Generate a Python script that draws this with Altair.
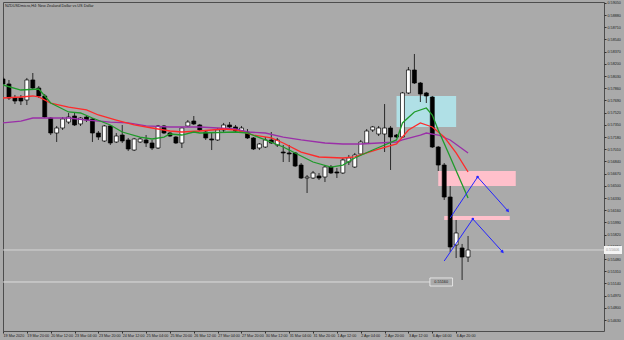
import altair as alt
import pandas as pd

title_text = "NZDUSDmicro,H4: New Zealand Dollar vs US Dollar"

# ---- candles (H4 bars, index 0 = 19 Mar 2020) ----
bar_index = list(range(79))
open_ = [0.57989,0.57919,0.57724,0.57724,0.57696,0.57975,0.57863,0.57752,0.57445,0.57236,
         0.57306,0.57389,0.57473,0.57362,0.57459,0.57431,0.57236,0.57125,0.57334,0.57111,
         0.57208,0.57139,0.56999,0.57111,0.57139,0.57097,0.57027,0.57334,0.57236,0.57180,
         0.57097,0.57334,0.57403,0.57348,0.57250,0.57153,0.57139,0.57278,0.57348,0.57320,
         0.57264,0.57250,0.57167,0.57027,0.57041,0.57139,0.57069,0.56971,0.56958,0.56958,
         0.56790,0.56609,0.56609,0.56637,0.56623,0.56762,0.56693,0.56679,0.56832,0.56762,
         0.56944,0.57097,0.57278,0.57222,0.57222,0.57306,0.57208,0.57180,0.57794,0.58114,
         0.57933,0.57794,0.57738,0.57041,0.56790,0.56344,0.55676,0.55634,0.55508]
high = [0.58017,0.57975,0.57766,0.57766,0.58003,0.58072,0.57891,0.57780,0.57459,0.57334,
        0.57459,0.57515,0.57515,0.57459,0.57487,0.57445,0.57264,0.57348,0.57348,0.57236,
        0.57348,0.57167,0.57167,0.57180,0.57208,0.57139,0.57348,0.57348,0.57250,0.57194,
        0.57320,0.57417,0.57473,0.57362,0.57278,0.57236,0.57306,0.57376,0.57389,0.57348,
        0.57334,0.57292,0.57180,0.57097,0.57180,0.57250,0.57167,0.57069,0.57069,0.56971,
        0.56818,0.56651,0.56707,0.56679,0.56790,0.56790,0.56749,0.56888,0.56930,0.56958,
        0.57139,0.57292,0.57334,0.57334,0.57640,0.57334,0.57222,0.57808,0.58156,0.58337,
        0.57947,0.57808,0.57752,0.57055,0.56818,0.56498,0.56024,0.55690,0.55801]
low = [0.57891,0.57696,0.57640,0.57626,0.57626,0.57835,0.57724,0.57445,0.57208,0.57111,
       0.57278,0.57362,0.57334,0.57334,0.57389,0.57111,0.57139,0.57111,0.57069,0.57097,
       0.57097,0.56985,0.56985,0.57097,0.57041,0.56999,0.57013,0.57222,0.57180,0.57083,
       0.57027,0.57320,0.57348,0.57264,0.57139,0.56999,0.57125,0.57250,0.57278,0.57236,
       0.57236,0.57153,0.56999,0.56999,0.57027,0.57083,0.57041,0.56832,0.56832,0.56762,
       0.56595,0.56400,0.56595,0.56581,0.56553,0.56665,0.56609,0.56665,0.56790,0.56749,
       0.56930,0.57083,0.57250,0.57194,0.56971,0.56721,0.57167,0.57167,0.57780,0.57919,
       0.57668,0.57654,0.57027,0.56707,0.56303,0.55578,0.55494,0.55188,0.55439]
close = [0.57919,0.57724,0.57682,0.57682,0.57975,0.57863,0.57752,0.57459,0.57236,0.57306,
         0.57431,0.57459,0.57348,0.57445,0.57417,0.57236,0.57180,0.57334,0.57097,0.57194,
         0.57125,0.57013,0.57153,0.57153,0.57097,0.57027,0.57334,0.57236,0.57194,0.57097,
         0.57306,0.57389,0.57362,0.57278,0.57167,0.57139,0.57278,0.57348,0.57320,0.57264,
         0.57306,0.57167,0.57013,0.57083,0.57139,0.57097,0.57139,0.56958,0.56944,0.56776,
         0.56609,0.56623,0.56679,0.56609,0.56762,0.56679,0.56679,0.56860,0.56888,0.56930,
         0.57111,0.57264,0.57320,0.57306,0.57306,0.57180,0.57180,0.57794,0.58114,0.57933,
         0.57780,0.57752,0.57041,0.56790,0.56344,0.55648,0.55843,0.55508,0.55606]

# ---- moving averages (read at selected bars) ----
green_bar = [0,3,6,8,11,13,15,18,20,23,25,27,28,30,32,33,39,41,44,47,49,52,55,57,59,62,64,66,67,69,71,72,73,75,78]
green_val = [0.57905,0.57835,0.57849,0.57654,0.57529,0.57515,0.57445,0.57348,0.57250,0.57180,
             0.57153,0.57180,0.57222,0.57208,0.57250,0.57236,0.57250,0.57236,0.57139,0.57041,
             0.56958,0.56832,0.56762,0.56790,0.56888,0.56999,0.57069,0.57139,0.57376,0.57529,
             0.57585,0.57487,0.57278,0.56902,0.56330]
red_bar = [0,3,5,6,8,11,14,16,19,22,25,28,30,33,37,39,42,45,47,50,53,57,59,61,63,66,68,70,72,74,76,78]
red_val = [0.57724,0.57738,0.57752,0.57738,0.57654,0.57598,0.57557,0.57487,0.57417,0.57348,
           0.57306,0.57264,0.57250,0.57264,0.57292,0.57278,0.57208,0.57167,0.57097,0.56971,
           0.56902,0.56888,0.56902,0.56958,0.57013,0.57083,0.57278,0.57376,0.57320,0.57180,
           0.56958,0.56693]
purple_bar = [0,3,5,8,11,14,18,21,24,28,33,36,39,41,44,47,50,54,57,60,63,66,67,70,71,73,75,78]
purple_val = [0.57376,0.57403,0.57445,0.57445,0.57445,0.57417,0.57389,0.57376,0.57334,0.57320,
              0.57320,0.57306,0.57292,0.57250,0.57236,0.57180,0.57139,0.57097,0.57083,0.57083,
              0.57097,0.57111,0.57139,0.57208,0.57236,0.57208,0.57139,0.56958]

# ---- zones ----
zone_from_bar = [66, 73, 74]
zone_to_bar = [76, 86, 85]
zone_top = [0.57752, 0.56707, 0.56080]
zone_bottom = [0.57320, 0.56498, 0.56024]
zone_color = ["#b0e0e6", "#ffc0cb", "#ffc0cb"]

# ---- blue zigzag projections ----
zig1_bar = [75, 79.6, 84.7]
zig1_price = [0.56052, 0.56623, 0.56149]
zig2_bar = [74, 78.8, 83.8]
zig2_price = [0.55453, 0.56038, 0.55578]

# ---- levels ----
bid_price = close[-1]
hline_level = 0.55160
hline_label = "0.55160"
hline_end_bar = 71.6
hline_label_end_bar = 75.4

# ---- axes ----
date_ticks = [0,4,8,12,16,20,24,28,32,36,40,44,48,52,56,60,64,68,72,76]
date_labels = ["19 Mar 2020","19 Mar 20:00","20 Mar 12:00","23 Mar 04:00","23 Mar 20:00",
               "24 Mar 12:00","25 Mar 04:00","25 Mar 20:00","26 Mar 12:00","27 Mar 04:00",
               "27 Mar 20:00","30 Mar 12:00","31 Mar 04:00","31 Mar 20:00","1 Apr 12:00",
               "2 Apr 04:00","2 Apr 20:00","3 Apr 12:00","6 Apr 04:00","6 Apr 20:00"]
price_ticks = [0.54630,0.54800,0.54970,0.55140,0.55310,0.55480,0.55650,0.55820,0.55990,
               0.56160,0.56330,0.56500,0.56670,0.56840,0.57010,0.57180,0.57350,0.57520,
               0.57690,0.57860,0.58030,0.58200,0.58370,0.58540,0.58710,0.58880,0.59050]

FONT = "Liberation Sans"
TXT = "#1a1a1a"
X_SCALE = alt.Scale(domain=[0, 100.8], nice=False, zero=False)
Y_SCALE = alt.Scale(domain=[0.544772, 0.590615], nice=False, zero=False)
date_expr = "[" + ",".join("'%s'" % s for s in date_labels) + "][round(datum.value / 4)]"
X_AXIS = alt.Axis(values=date_ticks, labelExpr=date_expr, labelAlign="left", labelFontSize=3.7,
                  labelFont=FONT, labelColor=TXT, tickSize=2, tickColor="#333333", labelPadding=0,
                  domain=False, grid=False, title=None, labelOverlap=False, labelFlush=False)
Y_AXIS = alt.Axis(orient="right", values=price_ticks, format=".5f", labelFontSize=3.7,
                  labelFont=FONT, labelColor=TXT, tickSize=2, tickColor="#333333", labelPadding=1,
                  domain=False, grid=False, title=None, labelOverlap=False, labelFlush=False)


def xe(f):
    return alt.X(f, type="quantitative", scale=X_SCALE, axis=X_AXIS)


def ye(f):
    return alt.Y(f, type="quantitative", scale=Y_SCALE, axis=Y_AXIS)


cd = pd.DataFrame({"k": bar_index, "o": open_, "h": high, "l": low, "c": close})
cd["top"] = cd[["o", "c"]].max(axis=1)
cd["bot"] = cd[["o", "c"]].min(axis=1)
cd["up"] = cd["c"] >= cd["o"]
cd["kl"] = cd["k"] - 0.33
cd["kr"] = cd["k"] + 0.33

zones = pd.DataFrame({"k1": zone_from_bar, "k2": zone_to_bar, "p1": zone_top,
                      "p2": zone_bottom, "col": zone_color})

zone_layer = alt.Chart(zones).mark_rect(clip=True).encode(
    x=xe("k1"), x2=alt.X2("k2"), y=ye("p1"), y2=alt.Y2("p2"),
    color=alt.Color("col:N", scale=None))

bid_line = alt.Chart(pd.DataFrame({"p": [bid_price]})).mark_rule(
    color="#d4d4d4", strokeWidth=1).encode(y=ye("p"))

lvl_line = alt.Chart(pd.DataFrame({"p": [hline_level], "k1": [0], "k2": [hline_end_bar]})).mark_rule(
    color="#dcdcdc", strokeWidth=1, clip=True).encode(x=xe("k1"), x2=alt.X2("k2"), y=ye("p"))

wicks = alt.Chart(cd).mark_rule(color="#2a2a2a", strokeWidth=1, clip=True).encode(
    x=xe("k"), y=ye("l"), y2=alt.Y2("h"))

bodies_up = alt.Chart(cd).transform_filter("datum.up").mark_rect(
    fill="white", stroke="#000000", strokeWidth=0.7, clip=True).encode(
    x=xe("kl"), x2=alt.X2("kr"), y=ye("bot"), y2=alt.Y2("top"))

bodies_dn = alt.Chart(cd).transform_filter("!datum.up").mark_rect(
    fill="black", stroke="#000000", strokeWidth=0.7, clip=True).encode(
    x=xe("kl"), x2=alt.X2("kr"), y=ye("bot"), y2=alt.Y2("top"))


def ma(bars, vals, color):
    d = pd.DataFrame({"k": bars, "p": vals})
    return alt.Chart(d).mark_line(color=color, strokeWidth=1.3, clip=True).encode(
        x=xe("k"), y=ye("p"), order=alt.Order("k:Q"))


purple_l = ma(purple_bar, purple_val, "#9a2fa8")
red_l = ma(red_bar, red_val, "#ff2a2a")
green_l = ma(green_bar, green_val, "#1f9a2a")

zig = pd.DataFrame({
    "k": zig1_bar + zig2_bar,
    "p": zig1_price + zig2_price,
    "g": ["a"] * 3 + ["b"] * 3,
    "s": [0, 1, 2, 0, 1, 2],
})
zig_lines = alt.Chart(zig).mark_line(color="#2424ff", strokeWidth=1, clip=True).encode(
    x=xe("k"), y=ye("p"), detail="g:N", order=alt.Order("s:Q"))
zig_peaks = alt.Chart(zig).transform_filter("datum.s == 1").mark_point(
    shape="circle", filled=True, size=7, color="#2424ff", opacity=1).encode(x=xe("k"), y=ye("p"))
zig_heads = alt.Chart(zig).transform_filter("datum.s == 2").mark_point(
    shape="triangle-right", angle=48, filled=True, size=14, color="#2424ff", opacity=1).encode(
    x=xe("k"), y=ye("p"))

lab_df = pd.DataFrame({"k1": [hline_end_bar], "k2": [hline_label_end_bar],
                       "km": [(hline_end_bar + hline_label_end_bar) / 2],
                       "p": [hline_level], "pt": [hline_level + 0.00056],
                       "pb": [hline_level - 0.00056], "t": [hline_label]})
lab_box = alt.Chart(lab_df).mark_rect(fill="#aaaaaa", stroke="#f2f2f2", strokeWidth=0.8).encode(
    x=xe("k1"), x2=alt.X2("k2"), y=ye("pt"), y2=alt.Y2("pb"))
lab_txt = alt.Chart(lab_df).mark_text(fontSize=3.8, font=FONT, color=TXT).encode(
    x=xe("km"), y=ye("p"), text="t:N")

bid_df = pd.DataFrame({"p": [bid_price], "pt": [bid_price + 0.00056], "pb": [bid_price - 0.00056],
                       "t": ["%.5f" % bid_price]})
bid_box = alt.Chart(bid_df).mark_rect(fill="#f4f4f4", clip=False).encode(
    x=alt.value(601), x2=alt.value(619), y=ye("pt"), y2=alt.Y2("pb"))
bid_txt = alt.Chart(bid_df).mark_text(fontSize=3.7, font=FONT, color="#9a9a9a", align="left", clip=False).encode(
    x=alt.value(603), y=ye("p"), text="t:N")

title_layer = alt.Chart(pd.DataFrame({"t": [title_text]})).mark_text(
    align="left", baseline="middle", fontSize=3.8, font=FONT, color=TXT).encode(
    x=alt.value(2), y=alt.value(3.5), text="t:N")

chart = alt.layer(
    zone_layer, bid_line, lvl_line, wicks, bodies_up, bodies_dn,
    purple_l, red_l, green_l, zig_lines, zig_peaks, zig_heads,
    lab_box, lab_txt, bid_box, bid_txt, title_layer,
).properties(
    width=601, height=329,
    padding={"left": 3, "top": 2, "right": 20, "bottom": 9},
    autosize=alt.AutoSizeParams(type="none"),
    background="#aaaaaa",
).configure_view(stroke="#4d4d4d", strokeWidth=1, fill="#aaaaaa")

chart.save("out.html", embed_options={"renderer": "svg", "actions": False})
